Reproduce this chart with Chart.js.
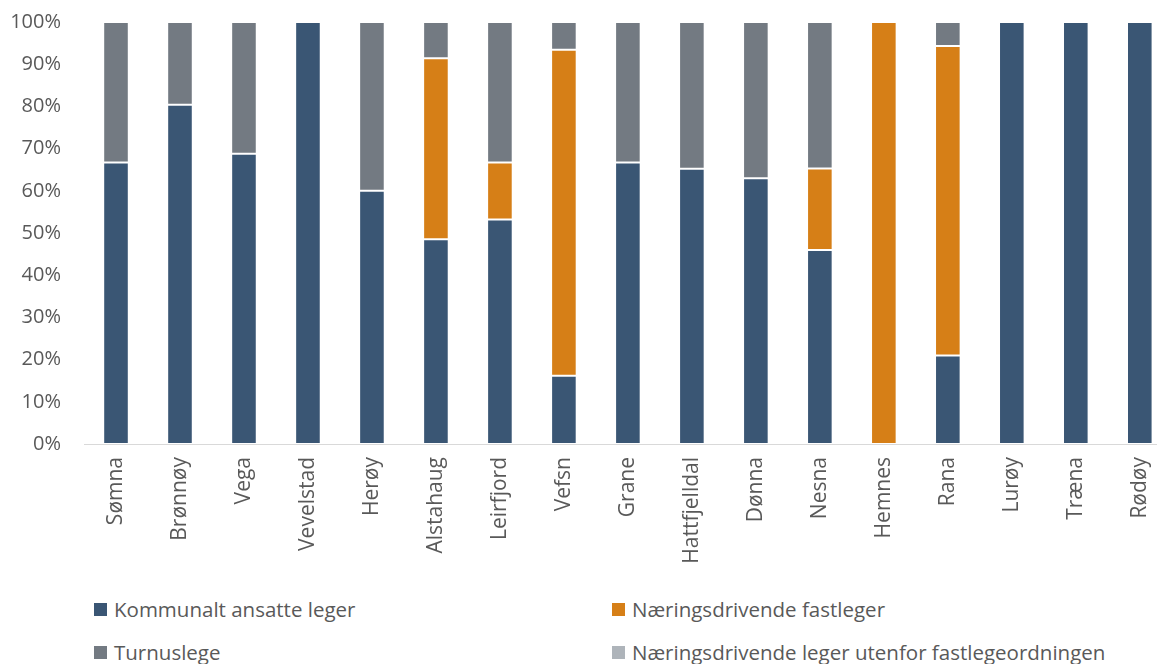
<!DOCTYPE html>
<html>
<head>
<meta charset="utf-8">
<script src="https://cdn.jsdelivr.net/npm/chart.js@4/dist/chart.umd.min.js"></script>
<style>
    html, body { margin: 0; padding: 0; background: #fff; overflow: hidden; }
    #wrap { width: 1157px; height: 664px; overflow: hidden; position: relative; }
    #box { width: 1178px; height: 603px; position: absolute; left: 0; top: -13px; }
    #legend {
        position: absolute; left: 0; top: 590px; width: 1157px;
        font-family: 'Open Sans', sans-serif; font-size: 20.5px; color: #595959;
    }
    .item { position: absolute; display: flex; align-items: center; white-space: nowrap; }
    .sw { width: 13px; height: 13px; margin-right: 7px; }
</style>
</head>
<body>
<div id="wrap">
    <div id="box"><canvas id="chart"></canvas></div>
    <div id="legend"></div>
</div>
<script>
// Kommuner
const kommuner = ['Sømna', 'Brønnøy', 'Vega', 'Vevelstad', 'Herøy', 'Alstahaug', 'Leirfjord', 'Vefsn',
    'Grane', 'Hattfjelldal', 'Dønna', 'Nesna', 'Hemnes', 'Rana', 'Lurøy', 'Træna', 'Rødøy'];

// Andel (%) per kategori
const kommunaltAnsatte = [66.7, 80.4, 68.8, 100, 60, 48.5, 53.2, 16.2, 66.7, 65.2, 63.0, 46.0, 0, 21.0, 100, 100, 100];
const naeringsdrivende = [0, 0, 0, 0, 0, 42.9, 13.5, 77.2, 0, 0, 0, 19.3, 100, 73.3, 0, 0, 0];
const turnuslege      = [33.3, 19.6, 31.2, 0, 40, 8.6, 33.3, 6.6, 33.3, 34.8, 37.0, 34.7, 0, 5.7, 0, 0, 0];
const utenforOrdning  = [0, 0, 0, 0, 0, 0, 0, 0, 0, 0, 0, 0, 0, 0, 0, 0, 0];

const yTicks = [0, 10, 20, 30, 40, 50, 60, 70, 80, 90, 100];

const colors = {
    blue: '#3a5674',
    orange: '#d67f17',
    grey: '#737a82',
    light: '#aeb4ba'
};

const datasets = [
    { label: 'Kommunalt ansatte leger', data: kommunaltAnsatte, backgroundColor: colors.blue },
    { label: 'Næringsdrivende fastleger', data: naeringsdrivende, backgroundColor: colors.orange },
    { label: 'Turnuslege', data: turnuslege, backgroundColor: colors.grey },
    { label: 'Næringsdrivende leger utenfor fastlegeordningen', data: utenforOrdning, backgroundColor: colors.light }
].map(ds => ({
    ...ds,
    borderColor: 'rgba(255,255,255,0.15)',
    borderWidth: 1,
    borderSkipped: false,
    barPercentage: 0.4,
    categoryPercentage: 1
}));

const font = { family: 'Open Sans, sans-serif', size: 21 };

new Chart(document.getElementById('chart'), {
    type: 'bar',
    data: { labels: kommuner, datasets },
    options: {
        responsive: true,
        maintainAspectRatio: false,
        animation: false,
        layout: { padding: 0 },
        plugins: { legend: { display: false }, tooltip: { enabled: false } },
        scales: {
            x: {
                stacked: true,
                grid: { display: false, drawTicks: false },
                border: { color: '#d9d9d9', width: 1 },
                ticks: { color: '#595959', font, minRotation: 90, maxRotation: 90, padding: 13, autoSkip: false },
                afterFit(scale) { scale.height = 146; }
            },
            y: {
                stacked: true,
                min: 0,
                max: 100,
                afterBuildTicks(scale) { scale.ticks = yTicks.map(v => ({ value: v })); },
                grid: { display: false, drawTicks: false },
                border: { display: false },
                ticks: { color: '#595959', font: { family: 'Open Sans, sans-serif', size: 20 }, padding: 23, callback: v => v + '%' },
                afterFit(scale) { scale.width = 84; }
            }
        }
    }
});

// Legend in two columns
const legendPos = [
    { x: 94, y: 5 }, { x: 612, y: 5 },
    { x: 94, y: 48 }, { x: 612, y: 48 }
];
const legend = document.getElementById('legend');
datasets.forEach((ds, i) => {
    const el = document.createElement('div');
    el.className = 'item';
    el.style.left = legendPos[i].x + 'px';
    el.style.top = legendPos[i].y + 'px';
    el.innerHTML = '<span class="sw" style="background:' + ds.backgroundColor + '"></span><span>' + ds.label + '</span>';
    legend.appendChild(el);
});
</script>
</body>
</html>
